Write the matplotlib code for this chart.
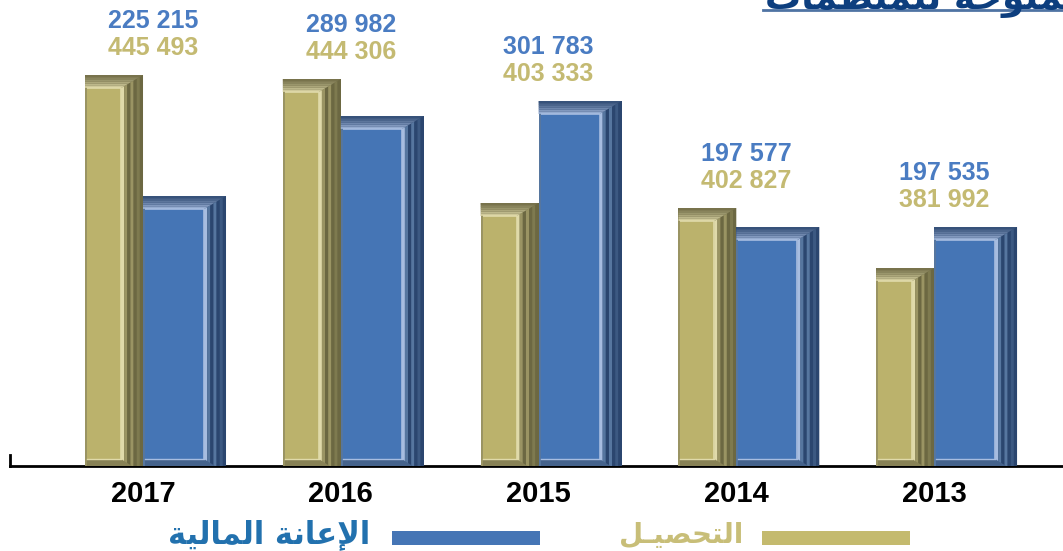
import numpy as np
import matplotlib
matplotlib.use('Agg')
import matplotlib.pyplot as plt
from matplotlib.patches import Polygon, Rectangle
from matplotlib.lines import Line2D
from matplotlib.colors import to_rgb


years = ['2017', '2016', '2015', '2014', '2013']
# printed values above each group
collect_labels = ['445 493', '444 306', '403 333', '402 827', '381 992']
aid_labels = ['225 215', '289 982', '301 783', '197 577', '197 535']
# bar heights as drawn in the picture (they do not follow the printed values)
collect_heights = [391, 387, 263, 258, 198]
aid_heights = [270, 350, 365, 239, 239]

# Arabic text, written in presentation forms (logical order), reversed for display
def visual(s):
	return ''.join(reversed(s))

collect_name = visual('\ufe8d\ufedf\ufe98\ufea4\ufebc\ufef4\u0640\ufede')   # التحصيل
aid_name = visual('\ufe8d\ufef9\ufecb\ufe8e\ufee7\ufe94 '
	'\ufe8d\ufedf\ufee4\ufe8e\ufedf\ufef4\ufe94')                           # الإعانة المالية
title_name = visual('\ufe8d\ufef9\ufecb\ufe8e\ufee7\ufe8e\ufe95 '
	'\ufe8d\ufedf\ufee4\ufee4\ufee8\ufeee\ufea3\ufe94 '
	'\ufedf\ufee0\ufee4\ufee8\ufec8\ufee4\ufe8e\ufe95')                      # الإعانات الممنوحة للمنظمات

OLIVE = dict(face='#BBB26C', hi='#E0DAAA', mid='#9A9463', dark='#6C6842', text='#C4BA72')
BLUE = dict(face='#4575B5', hi='#A7BDE0', mid='#56769F', dark='#2B466F', text='#4A7CC2')

W, H = 1063, 551
fig = plt.figure(figsize=(W / 100, H / 100), dpi=100)
ax = fig.add_axes([10 / W, 85 / H, 1053 / W, 466 / H])
ax.set_xlim(-0.6726, 4.652)
ax.set_ylim(0, 466)

# data units per pixel
ux = (4.652 + 0.6726) / 1053
uy = 466 / 466


def mix(c1, c2, t):
	a, b = np.array(to_rgb(c1)), np.array(to_rgb(c2))
	return tuple(a + (b - a) * t)


def bevel(patch, pal, z):
	x0 = patch.get_x()
	x1 = x0 + patch.get_width()
	h = patch.get_height()
	side, top, bot, edge = 22 * ux, 13 * uy, 7 * uy, 2 * ux
	fx0, fx1 = x0 + edge, x1 - side
	fy0, fy1 = bot, h - top

	# right side stripes, light next to the face, dark outside
	n = 7
	cols = [pal['hi'], pal['mid'], pal['dark'], pal['mid'], pal['dark'],
		mix(pal['dark'], pal['mid'], 0.4), pal['dark']]
	for k in range(n):
		xa = fx1 + side * k / n
		xb = fx1 + side * (k + 1) / n
		ya = fy1 + (xa - fx1) * top / side
		yb = fy1 + (xb - fx1) * top / side
		ax.add_patch(Polygon([(xa, 0), (xb, 0), (xb, yb), (xa, ya)],
			closed=True, fc=cols[k], ec='none', zorder=z + 0.1))

	# top bevel bands, dark at the outer edge
	m = 6
	for k in range(m):
		ya = fy1 + top * k / m
		yb = fy1 + top * (k + 1) / m
		xa = fx1 + (ya - fy1) * side / top
		xb = fx1 + (yb - fy1) * side / top
		c = mix(pal['hi'], pal['dark'], (k + 1) / m * 0.9)
		ax.add_patch(Polygon([(x0, ya), (xa, ya), (xb, yb), (x0, yb)],
			closed=True, fc=c, ec='none', zorder=z + 0.1))

	# bottom bevel and left edge
	ax.add_patch(Polygon([(x0, 0), (fx1 + side * 0.5, 0), (fx1, fy0), (fx0, fy0)],
		closed=True, fc=mix(pal['mid'], pal['dark'], 0.4), ec='none', zorder=z + 0.1))
	ax.add_patch(Rectangle((x0, 0), edge, fy1, fc=pal['mid'], ec='none', zorder=z + 0.1))

	# front face with a light rim
	ax.add_patch(Rectangle((fx0, fy0), fx1 - fx0, fy1 - fy0, fc=pal['face'],
		ec='none', zorder=z + 0.2))
	ax.plot([fx0, fx1, fx1], [fy1, fy1, fy0], color=pal['hi'], lw=1.2,
		zorder=z + 0.3, solid_capstyle='butt')
	ax.plot([fx0, fx1], [fy0, fy0], color=pal['hi'], lw=1.0, zorder=z + 0.3)


x = np.arange(len(years))
w_collect = 58 * ux
w_aid = 83 * ux

bars_c = ax.bar(x - w_collect, collect_heights, w_collect, align='edge',
	color=OLIVE['dark'], zorder=3)
bars_a = ax.bar(x, aid_heights, w_aid, align='edge', color=BLUE['dark'], zorder=4)
for p in bars_c:
	bevel(p, OLIVE, 3)
for p in bars_a:
	bevel(p, BLUE, 4)

# value labels above each group
lab_font = dict(family='Liberation Sans', fontweight='bold', fontsize=18,
	ha='center', va='center', annotation_clip=False)
for i in range(len(years)):
	top_h = max(collect_heights[i], aid_heights[i])
	ax.annotate(collect_labels[i], (i + 0.05, top_h), xytext=(0, 27),
		textcoords='offset pixels', color=OLIVE['text'], **lab_font)
	ax.annotate(aid_labels[i], (i + 0.05, top_h), xytext=(0, 54),
		textcoords='offset pixels', color=BLUE['text'], **lab_font)

# axes styling
for s in ['top', 'right']:
	ax.spines[s].set_visible(False)
ax.spines['bottom'].set_linewidth(2)
ax.spines['left'].set_linewidth(2)
ax.spines['left'].set_bounds(0, 11)
ax.set_yticks([])
ax.set_xticks(x)
ax.set_xticklabels(years, fontsize=21, fontweight='bold', family='Liberation Sans')
ax.tick_params(axis='x', length=0, pad=10)

# legend, right to left
fig.add_artist(Rectangle((762 / W, 6 / H), 148 / W, 14 / H, fc='#C4BA6E', ec='none',
	transform=fig.transFigure))
fig.text(743 / W, 8 / H, collect_name, ha='right', va='baseline', fontsize=20,
	fontweight='bold', color='#C8BE78', family='DejaVu Sans')
fig.add_artist(Rectangle((392 / W, 6 / H), 148 / W, 14 / H, fc='#4575B5', ec='none',
	transform=fig.transFigure))
fig.text(370 / W, 8 / H, aid_name, ha='right', va='baseline', fontsize=22,
	fontweight='bold', color='#2271AE', family='DejaVu Sans')

# title, mostly cut off by the top edge as in the source
fig.text(765 / W, 1 - 9 / H, title_name, ha='left', va='baseline', fontsize=26,
	fontweight='bold', color='#0D3E7E', family='DejaVu Sans')
fig.add_artist(Line2D([763 / W, 1], [1 - 10 / H, 1 - 10 / H], color='#4F73A3', lw=2,
	transform=fig.transFigure))

plt.savefig('out.png', dpi=100)
plt.close()
